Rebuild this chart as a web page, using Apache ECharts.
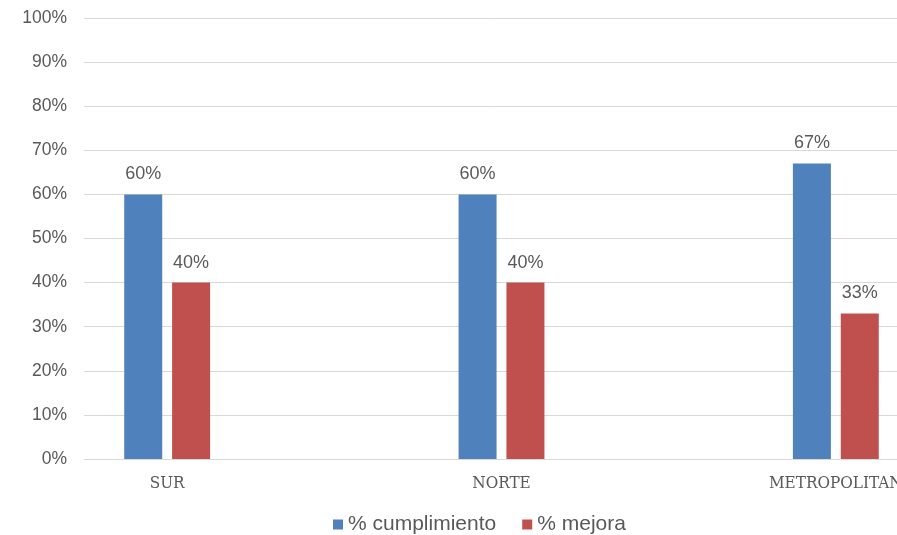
<!DOCTYPE html>
<html><head><meta charset="utf-8">
<script src="https://cdn.jsdelivr.net/npm/echarts@6/dist/echarts.min.js"></script>
<style>html,body{margin:0;padding:0;background:#fff}#c{width:897px;height:535px}</style>
</head><body><div id="c"></div>
<script>
const categories = ['SUR', 'NORTE', 'METROPOLITAN'];
const cumplimiento = [60, 60, 67];
const mejora = [40, 40, 33];
const yTicks = [0, 10, 20, 30, 40, 50, 60, 70, 80, 90, 100];

const chart = echarts.init(document.getElementById('c'), null, {renderer: 'canvas'});
const txt = '#595959';
chart.setOption({
  animation: false,
  grid: [
    {left: 84, right: 0, top: 18, bottom: 76, outerBoundsMode: 'none'},
    {left: 0, width: 1003, top: 18, bottom: 76, outerBoundsMode: 'none'}
  ],
  legend: {
    top: 509, left: 328,
    icon: 'rect', itemWidth: 10, itemHeight: 10, itemGap: 26,
    textStyle: {fontFamily: 'Liberation Sans', fontSize: 21, color: txt},
    data: ['% cumplimiento', '% mejora']
  },
  xAxis: [
    {gridIndex: 0, type: 'value', min: 0, max: 1, show: true,
     axisLine: {show: true, lineStyle: {color: '#D9D9D9', width: 1}},
     axisTick: {show: false}, axisLabel: {show: false}, splitLine: {show: false}},
    {gridIndex: 1, type: 'category', data: categories,
     axisLine: {show: false}, axisTick: {show: false},
     axisLabel: {margin: 16, color: txt, fontFamily: 'DejaVu Serif Condensed, DejaVu Serif', fontSize: 17}}
  ],
  yAxis: [
    {gridIndex: 0, type: 'value', min: 0, max: 100, interval: 10,
     axisLine: {show: false}, axisTick: {show: false},
     axisLabel: {margin: 17, color: txt, fontFamily: 'Liberation Sans', fontSize: 17.5,
       formatter: v => yTicks.includes(v) ? v + '%' : ''},
     splitLine: {lineStyle: {color: '#D9D9D9', width: 1}}},
    {gridIndex: 1, type: 'value', min: 0, max: 100, show: false, splitLine: {show: false}}
  ],
  series: [
    {name: '% cumplimiento', type: 'bar', xAxisIndex: 1, yAxisIndex: 1, data: cumplimiento,
     barWidth: 38, barGap: '26%', itemStyle: {color: '#4F81BD'},
     label: {show: true, position: 'top', distance: 11, color: txt, fontFamily: 'Liberation Sans', fontSize: 18, formatter: p => p.value + '%'}},
    {name: '% mejora', type: 'bar', xAxisIndex: 1, yAxisIndex: 1, data: mejora,
     barWidth: 38, barGap: '26%', itemStyle: {color: '#C0504D'},
     label: {show: true, position: 'top', distance: 11, color: txt, fontFamily: 'Liberation Sans', fontSize: 18, formatter: p => p.value + '%'}}
  ]
});
</script></body></html>
